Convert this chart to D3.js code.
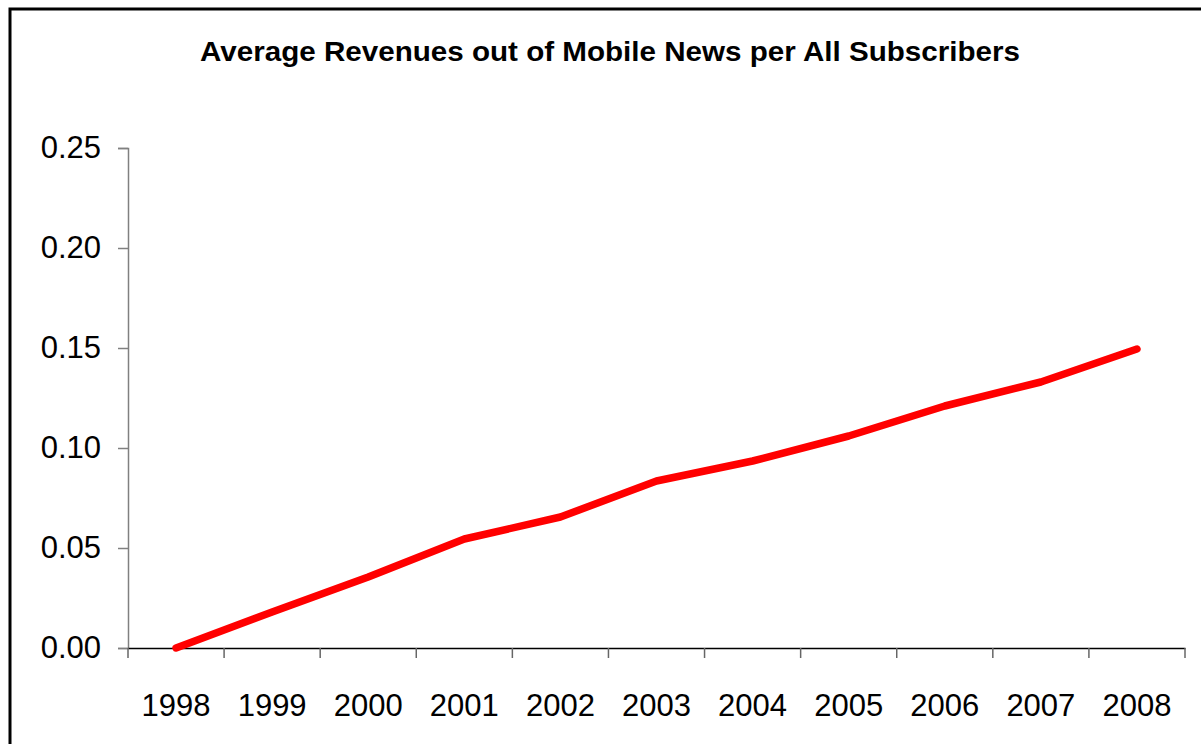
<!DOCTYPE html>
<html>
<head>
<meta charset="utf-8">
<script src="https://cdn.jsdelivr.net/npm/d3@7/dist/d3.min.js"></script>
<style>
  html, body { margin: 0; padding: 0; background: #fff; }
  svg { display: block; font-family: "Liberation Sans", Arial, sans-serif; }
</style>
</head>
<body>
<svg id="chart" width="1201" height="744"></svg>
<script>
// Years on the category axis and average revenue per subscriber
const years = ["1998", "1999", "2000", "2001", "2002", "2003", "2004", "2005", "2006", "2007", "2008"];
const revenues = [0.000, 0.018, 0.0355, 0.0545, 0.0655, 0.0835, 0.0935, 0.106, 0.121, 0.133, 0.1495];
const yTicks = [0, 0.05, 0.10, 0.15, 0.20, 0.25];
const title = "Average Revenues out of Mobile News per All Subscribers";

const svg = d3.select("#chart");
const plot = { left: 128, right: 1185, top: 148, bottom: 648 };

// Outer chart frame
svg.append("rect")
  .attr("x", 10).attr("y", 9)
  .attr("width", 1202).attr("height", 750)
  .attr("fill", "#fff")
  .attr("stroke", "#000").attr("stroke-width", 3);

svg.append("text")
  .attr("x", 610).attr("y", 61)
  .attr("text-anchor", "middle")
  .attr("font-size", 28).attr("font-weight", "bold")
  .attr("fill", "#000")
  .attr("textLength", 820)
  .attr("lengthAdjust", "spacingAndGlyphs")
  .text(title);

const x = d3.scaleBand().domain(years).range([plot.left, plot.right]);
const y = d3.scaleLinear().domain([0, 0.25]).range([plot.bottom, plot.top]);

// Value axis
const yAxis = svg.append("g")
  .attr("transform", `translate(${plot.left},0)`)
  .call(d3.axisLeft(y).tickValues(yTicks).tickFormat(d3.format(".2f")).tickSize(10).tickPadding(17));
yAxis.select(".domain").attr("stroke", "#808080").attr("stroke-width", 1.5);
yAxis.selectAll(".tick line").attr("stroke", "#808080").attr("stroke-width", 1.5);
yAxis.selectAll(".tick text")
  .attr("font-size", 31).attr("fill", "#000")
  .attr("font-family", "Liberation Sans, Arial, sans-serif");

// Category axis with ticks on the band boundaries
const xAxis = svg.append("g")
  .attr("transform", `translate(0,${plot.bottom})`)
  .call(d3.axisBottom(x).tickSize(0).tickPadding(46));
xAxis.select(".domain").attr("stroke", "#000").attr("stroke-width", 1.5);
xAxis.selectAll(".tick text")
  .attr("font-size", 31).attr("fill", "#000")
  .attr("font-family", "Liberation Sans, Arial, sans-serif");

const boundaries = years.map(d => x(d)).concat([x(years[years.length - 1]) + x.bandwidth()]);
svg.append("g").selectAll("line")
  .data(boundaries)
  .join("line")
  .attr("x1", d => d).attr("x2", d => d)
  .attr("y1", plot.bottom).attr("y2", plot.bottom + 10)
  .attr("stroke", "#666").attr("stroke-width", 1.5);

// Revenue line
const line = d3.line()
  .x((d, i) => x(years[i]) + x.bandwidth() / 2)
  .y(d => y(d));

svg.append("path")
  .datum(revenues)
  .attr("d", line)
  .attr("fill", "none")
  .attr("stroke", "#ff0000")
  .attr("stroke-width", 7.5)
  .attr("stroke-linecap", "round")
  .attr("stroke-linejoin", "round");
</script>
</body>
</html>
